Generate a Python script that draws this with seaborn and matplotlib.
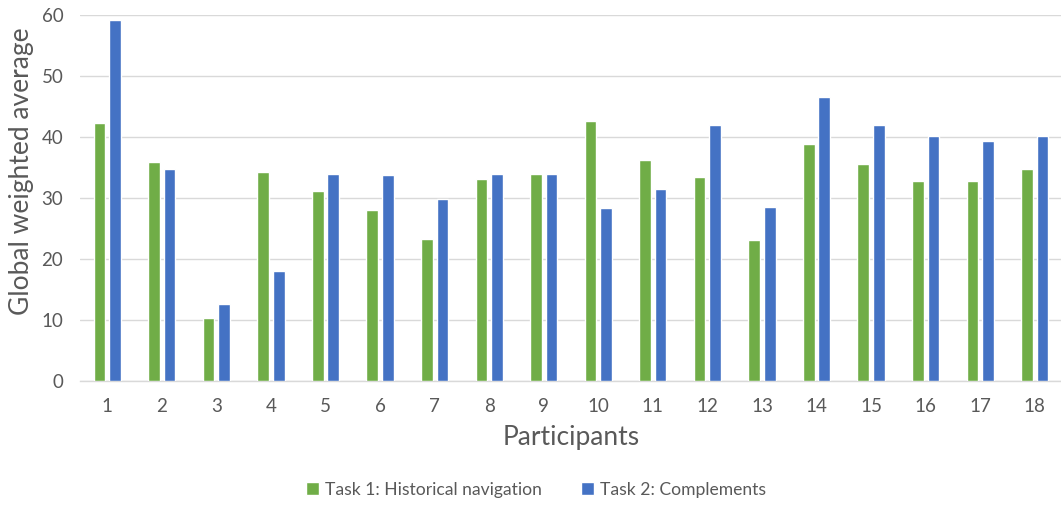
import matplotlib
matplotlib.use("Agg")
import matplotlib.pyplot as plt
import seaborn as sns
import pandas as pd

participants = [str(i) for i in range(1, 19)]
task1 = [42.3, 35.9, 10.3, 34.2, 31.2, 28.1, 23.2, 33.1, 34.0,
         42.6, 36.3, 33.5, 23.1, 38.8, 35.6, 32.8, 32.8, 34.8]
task2 = [59.1, 34.7, 12.6, 18.0, 33.9, 33.7, 29.9, 34.0, 34.0,
         28.3, 31.4, 41.9, 28.6, 46.6, 41.9, 40.1, 39.3, 40.1]
series_names = ["Task 1: Historical navigation", "Task 2: Complements"]
colors = ["#70AD47", "#4472C4"]
y_ticks = [0, 10, 20, 30, 40, 50, 60]

df = pd.DataFrame({
    "Participant": participants * 2,
    "Value": task1 + task2,
    "Task": [series_names[0]] * len(task1) + [series_names[1]] * len(task2),
})

sns.set_theme(style="white")
plt.rcParams["font.family"] = ["Lato", "DejaVu Sans"]
text_gray = "#595959"
grid_gray = "#D9D9D9"

W, H = 1061, 507
fig = plt.figure(figsize=(W / 100, H / 100), dpi=100)
ax = fig.add_axes([80 / W, 1 - 381 / H, 982 / W, 366 / H])

sns.barplot(data=df, x="Participant", y="Value", hue="Task",
            palette=colors, width=0.57, gap=0.245, saturation=1,
            order=participants, hue_order=series_names, ax=ax,
            legend=True, zorder=3)

ax.set_ylim(0, 60)
ax.set_yticks(y_ticks)
ax.set_xlim(-0.5, len(participants) - 0.5)
ax.yaxis.grid(True, color=grid_gray, linewidth=1, zorder=0)
ax.set_axisbelow(True)
for side in ["left", "right", "top"]:
    ax.spines[side].set_visible(False)
ax.spines["bottom"].set_color(grid_gray)
ax.spines["bottom"].set_linewidth(1)
ax.tick_params(axis="both", length=0, labelsize=13.5, colors=text_gray)
ax.tick_params(axis="x", pad=12)
ax.tick_params(axis="y", pad=12)

ax.set_xlabel("Participants", fontsize=19, color=text_gray)
ax.xaxis.set_label_coords(0.5, 1 - (438 - 15) / 366, transform=ax.transAxes)
ax.xaxis.label.set_verticalalignment("center")
ax.set_ylabel("Global weighted average", fontsize=19, color=text_gray)
ax.yaxis.label.set_verticalalignment("center")
ax.yaxis.set_label_coords(22 / W, 1 - 171 / H, transform=fig.transFigure)

handles, labels = ax.get_legend_handles_labels()
ax.legend_.remove()
fig.legend(handles, labels, loc="center", bbox_to_anchor=(536 / W, 1 - 490 / H),
           ncol=2, frameon=False, fontsize=12.6, labelcolor=text_gray,
           handlelength=0.75, handleheight=0.75, handletextpad=0.35,
           columnspacing=2.2)

fig.savefig("out.png", dpi=100)
